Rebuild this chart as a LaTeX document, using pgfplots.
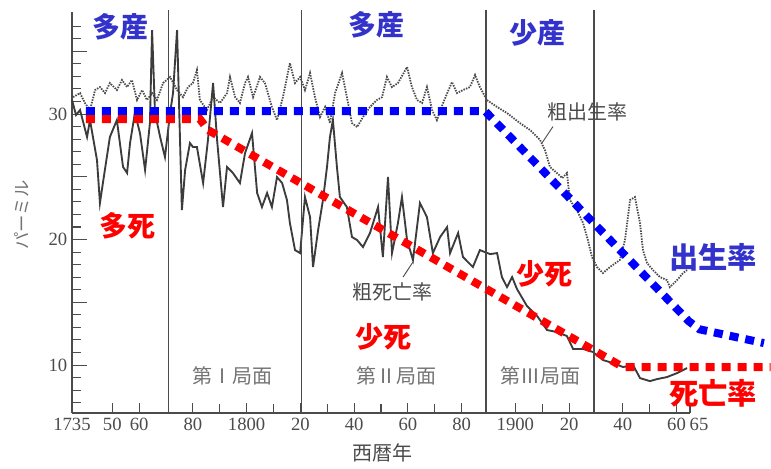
\documentclass[border=0pt]{standalone}
\usepackage{pgfplots}
\pgfplotsset{compat=1.18}
\usepackage{fontspec}
\setmainfont{Liberation Serif}
\newfontfamily\cjk{Noto Sans CJK JP}
\definecolor{tblue}{RGB}{51,51,204}
\definecolor{dblue}{RGB}{0,0,255}
\definecolor{dred}{RGB}{255,0,0}
\definecolor{scan}{RGB}{75,75,75}
\definecolor{scandk}{RGB}{60,60,60}
\definecolor{scanlt}{RGB}{115,115,115}
\begin{document}
\begin{tikzpicture}
\useasboundingbox (-54pt,-41.25pt) rectangle (524.25pt,309.75pt);
\begin{axis}[
  scale only axis, width=463.5pt, height=300.75pt,
  xmin=1735, xmax=1965, ymin=6.18, ymax=38.13,
  clip=false,
  axis lines=left,
  axis line style={scan, line width=1.1pt, -},
  tick align=inside,
  xtick={1735,1750,1760,1780,1800,1820,1840,1860,1880,1900,1920,1940,1960,1965},
  xticklabels={1735,50,60,80,1800,20,40,60,80,1900,20,40,60,{\hspace*{13.5pt}65}},
  minor xtick={1790,1810,1830,1850,1870,1910,1950},
  ytick={10,15,20,25,30,35},
  yticklabels={10,,20,,30,},
  minor ytick={7,8,9,11,12,13,14,16,17,18,19,21,22,23,24,26,27,28,29,31,32,33,34,36,37},
  tick style={scan, line width=0.8pt},
  major tick length=11pt, minor tick length=7pt,
  xtick style={/pgfplots/major tick length=7.5pt},
  ticklabel style={font=\fontsize{14}{14}\selectfont, text=scan},
]
% crude birth rate (dotted)
\addplot[scan, line width=1.35pt, dash pattern=on 1.1pt off 0.9pt] coordinates {
(1735.4,31.35)(1738.0,31.67)(1739.8,30.88)(1741.7,30.32)(1743.6,31.91)(1745.4,32.15)(1747.3,31.67)(1749.1,32.47)(1751.7,31.91)(1753.6,32.71)(1755.5,32.15)(1757.3,32.71)(1759.2,31.12)(1761.1,31.91)(1762.9,31.12)(1764.8,31.67)(1766.6,31.12)(1768.9,32.47)(1771.5,32.95)(1774.1,31.91)(1776.3,31.35)(1778.2,32.15)(1780.0,32.47)(1781.5,33.51)(1782.6,31.12)(1785.2,30.32)(1787.5,31.35)(1790.1,30.88)(1792.7,31.67)(1793.8,32.95)(1795.7,31.35)(1797.5,30.88)(1799.4,32.47)(1800.5,32.95)(1802.4,31.35)(1805.0,32.95)(1806.8,32.47)(1809.4,30.56)(1811.3,29.52)(1813.5,31.35)(1816.1,34.06)(1818.0,32.47)(1819.9,32.95)(1821.7,31.91)(1823.6,33.27)(1825.4,31.35)(1827.3,29.76)(1829.2,30.56)(1831.0,29.28)(1832.9,31.67)(1835.5,33.27)(1837.3,31.35)(1839.2,29.28)(1841.1,28.96)(1843.3,29.76)(1845.9,30.56)(1848.5,31.12)(1850.4,31.35)(1852.2,32.95)(1854.1,32.15)(1856.3,32.47)(1859.7,33.74)(1861.5,32.15)(1863.4,31.12)(1865.3,30.88)(1867.1,32.15)(1869.0,30.32)(1870.8,29.52)(1873.1,30.88)(1876.4,32.55)(1878.3,31.67)(1880.5,31.91)(1883.1,32.15)(1885.0,33.11)(1886.8,32.15)(1889.4,31.12)(1893.2,30.56)(1896.9,30.08)(1901.7,29.28)(1905.5,28.72)(1909.2,27.93)(1911.0,27.13)(1912.9,25.78)(1915.5,25.30)(1917.5,24.9)(1919.2,25.30)(1920.3,23.15)(1922.9,22.35)(1925.2,21.31)(1927.0,19.96)(1928.5,18.61)(1930.4,17.81)(1932.6,17.33)(1935.2,17.81)(1938.9,18.37)(1940.8,19.96)(1942.7,23.15)(1944.5,23.39)(1946.4,21.31)(1947.5,19.16)(1949.0,18.13)(1951.2,17.57)(1953.8,17.01)(1956.4,16.77)(1957.5,16.21)(1960.2,16.77)(1962.4,17.33)(1963.9,17.57)};
% crude death rate (solid)
\addplot[scandk, line width=1.4pt] coordinates {
(1735.0,31.12)(1736.5,29.92)(1738.0,30.32)(1740.6,28.17)(1741.7,29.52)(1744.3,26.33)(1745.4,22.91)(1746.5,24.50)(1749.1,28.17)(1751.7,29.52)(1754.0,25.78)(1755.5,25.30)(1756.6,27.69)(1758.4,30.08)(1760.3,28.48)(1762.2,25.54)(1764.0,29.28)(1764.8,36.69)(1765.9,30.08)(1767.8,28.17)(1769.6,26.57)(1771.5,30.08)(1772.6,31.67)(1774.1,36.69)(1775.9,22.35)(1777.1,25.54)(1778.9,27.69)(1780.0,27.37)(1781.5,27.37)(1783.8,24.50)(1785.6,27.93)(1787.5,32.47)(1789.0,27.93)(1791.2,22.59)(1792.7,25.78)(1794.9,25.30)(1797.5,24.50)(1799.4,26.89)(1802.0,28.48)(1803.9,23.71)(1805.7,22.59)(1807.6,23.71)(1809.4,22.59)(1811.3,24.98)(1813.2,24.50)(1815.0,23.15)(1816.1,21.31)(1818.0,19.16)(1819.9,18.92)(1821.7,23.39)(1823.6,21.79)(1824.7,17.81)(1826.6,20.76)(1828.4,23.15)(1829.9,25.78)(1831.0,28.17)(1832.1,29.52)(1833.6,25.78)(1834.7,23.39)(1837.3,22.59)(1839.2,20.20)(1841.1,19.96)(1843.3,19.40)(1845.9,20.52)(1848.9,22.59)(1850.7,18.61)(1852.6,24.98)(1854.1,18.92)(1856.3,21.31)(1857.8,23.39)(1859.7,19.96)(1861.9,18.37)(1864.5,22.91)(1867.1,21.79)(1869.3,18.92)(1872.0,20.20)(1874.6,20.99)(1875.7,18.92)(1878.7,20.52)(1880.5,18.61)(1884.2,17.81)(1886.8,19.16)(1890.6,18.84)(1893.2,18.92)(1895.0,17.01)(1896.9,16.21)(1898.8,17.01)(1900.6,16.06)(1904.3,14.71)(1908.1,13.91)(1911.8,12.79)(1915.5,12.63)(1919.2,12.31)(1921.5,11.28)(1925.2,11.28)(1928.9,11.04)(1932.6,10.40)(1936.3,10.16)(1940.1,9.84)(1943.8,10.00)(1946.4,8.96)(1950.1,8.72)(1952.7,8.88)(1956.4,9.04)(1960.2,9.36)(1963.9,9.76)};
% phase boundaries
\addplot[scan, line width=1pt] coordinates {(1771,6.18)(1771,38.3)};
\addplot[scan, line width=1pt] coordinates {(1820.5,6.18)(1820.5,38.3)};
\addplot[scan, line width=1pt] coordinates {(1889.1,6.18)(1889.1,38.3)};
\addplot[scan, line width=1pt] coordinates {(1929.3,6.18)(1929.3,38.3)};
% leader lines
\addplot[scan, line width=0.7pt] coordinates {(1914.0,29.0)(1909.9,27.69)};
\addplot[scan, line width=0.7pt] coordinates {(1858.2,17.01)(1861.9,18.21)};
% overlay trend lines
\addplot[dblue, line width=6pt, dash pattern=on 6.75pt off 5.25pt] coordinates {(1740.2,30.24)(1888.7,30.24)(1961.3,14.22)(1964.5,13.5)(1968.5,12.85)(1992.5,11.75)};
\addplot[dred, line width=6pt, dash pattern=on 6.75pt off 5.25pt] coordinates {(1740.2,29.6)(1782.6,29.6)(1785.6,28.73)(1940.1,9.84)(1995,9.84)};
% gray scan annotations
\node[text=scan, font=\cjk\fontsize{15}{15}\selectfont] at (axis cs:1926.7,30.16) {粗出生率};
\node[text=scan, font=\cjk\fontsize{15}{15}\selectfont] at (axis cs:1854.1,15.82) {粗死亡率};
\node[text=scanlt, font=\cjk\fontsize{15}{15}\selectfont] at (axis cs:1794.9,9.12) {第Ⅰ局面};
\node[text=scanlt, font=\cjk\fontsize{15}{15}\selectfont] at (axis cs:1855.9,9.12) {第Ⅱ局面};
\node[text=scanlt, font=\cjk\fontsize{15}{15}\selectfont] at (axis cs:1909.5,9.12) {第Ⅲ局面};
\node[text=scanlt, rotate=90, font=\cjk\fontsize{13}{13}\selectfont] at (axis cs:1716.4,21.95) {パーミル};
\node[text=scan, font=\cjk\fontsize{15}{15}\selectfont] at (axis cs:1850.4,2.99) {西暦年};
% overlay labels
\node[text=tblue, font=\cjk\bfseries\fontsize{21}{21}\selectfont] at (axis cs:1753.2,36.93) {多産};
\node[text=tblue, font=\cjk\bfseries\fontsize{21}{21}\selectfont] at (axis cs:1848.5,37.09) {多産};
\node[text=tblue, font=\cjk\bfseries\fontsize{21}{21}\selectfont] at (axis cs:1908.1,36.45) {少産};
\node[text=tblue, font=\cjk\bfseries\fontsize{22}{22}\selectfont] at (axis cs:1973.6,18.61) {出生率};
\node[text=dred, font=\cjk\bfseries\fontsize{21}{21}\selectfont] at (axis cs:1755.8,21.08) {多死};
\node[text=dred, font=\cjk\bfseries\fontsize{21}{21}\selectfont] at (axis cs:1851.1,12.23) {少死};
\node[text=dred, font=\cjk\bfseries\fontsize{21}{21}\selectfont] at (axis cs:1911.0,17.25) {少死};
\node[text=dred, font=\cjk\bfseries\fontsize{22}{22}\selectfont] at (axis cs:1973.6,7.77) {死亡率};
\end{axis}
\end{tikzpicture}
\end{document}
